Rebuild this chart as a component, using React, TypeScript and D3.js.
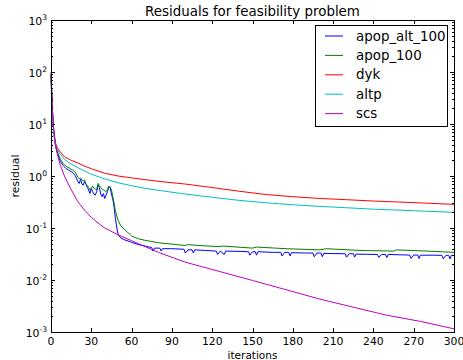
import React, { useEffect, useRef } from "react";
import * as d3 from "d3";

const W = 463;
const H = 360;
const M = { left: 51, right: 9, top: 20, bottom: 28 };

const xTicks = [0, 30, 60, 90, 120, 150, 180, 210, 240, 270, 300];
const yDecades = [-3, -2, -1, 0, 1, 2, 3];

// apop_alt_100 (blue)
const blueIter = [0, 1, 2, 3, 4, 5, 7, 9, 11, 13, 15, 17, 18, 19, 20, 21, 22, 23, 24, 25, 26, 27, 28, 29, 30, 31, 32, 33, 34, 35, 36, 37, 38, 39, 40, 41, 42, 43, 44, 45, 46, 47, 48, 49, 50, 52, 55, 60, 65, 70, 75, 76, 77, 81, 82, 83, 90, 99, 100, 102, 105, 106, 107, 115, 123, 124, 126, 129, 130, 140, 147, 148, 150, 152, 153, 154, 165, 171, 172, 174, 177, 178, 179, 190, 195, 196, 198, 201, 202, 203, 210, 219, 220, 222, 225, 226, 227, 235, 243, 244, 246, 249, 250, 251, 260, 267, 268, 270, 273, 274, 275, 285, 291, 292, 294, 296, 297, 298, 300];
const blueVal = [90, 20, 7, 4.2, 3.2, 2.6, 1.9, 1.6, 1.4, 1.3, 1.22, 1.1, 1.02, 0.9, 0.78, 0.72, 0.86, 0.7, 0.67, 0.78, 0.7, 0.6, 0.54, 0.46, 0.58, 0.5, 0.45, 0.43, 0.5, 0.67, 0.6, 0.45, 0.4, 0.46, 0.37, 0.43, 0.5, 0.6, 0.62, 0.45, 0.36, 0.25, 0.15, 0.1, 0.075, 0.064, 0.059, 0.053, 0.048, 0.045, 0.042, 0.036, 0.041, 0.041, 0.036, 0.04, 0.04, 0.039, 0.033, 0.038, 0.038, 0.033, 0.038, 0.037, 0.036, 0.031, 0.036, 0.031, 0.036, 0.0355, 0.035, 0.03, 0.035, 0.035, 0.03, 0.035, 0.034, 0.034, 0.029, 0.034, 0.034, 0.029, 0.0335, 0.033, 0.033, 0.028, 0.033, 0.033, 0.028, 0.0325, 0.0322, 0.032, 0.0275, 0.032, 0.032, 0.0275, 0.0315, 0.0312, 0.031, 0.027, 0.031, 0.031, 0.027, 0.031, 0.0305, 0.0302, 0.026, 0.0302, 0.0302, 0.026, 0.03, 0.03, 0.0298, 0.0255, 0.0298, 0.0298, 0.0255, 0.0298, 0.0297];

// apop_100 (green)
const greenIter = [0, 1, 2, 3, 4, 5, 7, 9, 11, 14, 16, 18, 20, 21, 22, 23, 24, 25, 26, 27, 28, 29, 30, 31, 32, 33, 34, 35, 36, 37, 38, 39, 40, 41, 42, 43, 44, 45, 46, 47, 48, 49, 50, 52, 55, 60, 65, 70, 75, 80, 90, 100, 102, 110, 125, 128, 150, 153, 175, 200, 205, 230, 255, 257, 280, 300];
const greenVal = [90, 20, 7.5, 4.6, 3.4, 2.8, 2.1, 1.75, 1.55, 1.4, 1.3, 1.2, 0.95, 0.88, 0.92, 0.84, 0.8, 0.84, 0.7, 0.66, 0.6, 0.54, 0.58, 0.64, 0.58, 0.56, 0.55, 0.72, 0.66, 0.6, 0.56, 0.54, 0.52, 0.5, 0.55, 0.64, 0.6, 0.55, 0.4, 0.3, 0.21, 0.17, 0.14, 0.11, 0.092, 0.07, 0.062, 0.058, 0.055, 0.052, 0.049, 0.046, 0.048, 0.046, 0.044, 0.045, 0.041, 0.043, 0.04, 0.038, 0.04, 0.037, 0.036, 0.038, 0.036, 0.034];

// dyk (red)
const redIter = [0, 1, 2, 3, 4, 5, 7, 10, 15, 20, 25, 30, 40, 50, 60, 70, 80, 100, 120, 140, 160, 180, 200, 220, 240, 260, 280, 300];
const redVal = [80, 18, 8, 4.8, 3.8, 3.4, 2.9, 2.35, 2.0, 1.78, 1.55, 1.38, 1.13, 1.0, 0.92, 0.85, 0.79, 0.7, 0.6, 0.51, 0.44, 0.4, 0.37, 0.35, 0.33, 0.315, 0.3, 0.285];

// altp (cyan)
const cyanIter = [0, 1, 2, 3, 4, 5, 7, 10, 15, 20, 25, 30, 40, 50, 60, 70, 80, 100, 120, 140, 160, 180, 200, 220, 240, 260, 280, 300];
const cyanVal = [70, 15, 7, 4.4, 3.5, 3.1, 2.6, 2.1, 1.7, 1.45, 1.25, 1.08, 0.88, 0.74, 0.65, 0.58, 0.53, 0.45, 0.39, 0.34, 0.305, 0.28, 0.26, 0.245, 0.23, 0.22, 0.21, 0.2];

// scs (magenta)
const magIter = [0, 1, 2, 3, 4, 5, 7, 10, 12, 15, 20, 25, 30, 35, 40, 50, 60, 70, 80, 100, 125, 150, 175, 200, 225, 250, 275, 300];
const magVal = [100, 20, 8, 4.8, 3.4, 2.5, 1.6, 1.0, 0.78, 0.55, 0.32, 0.22, 0.16, 0.125, 0.1, 0.074, 0.057, 0.044, 0.034, 0.022, 0.0147, 0.0098, 0.0065, 0.0043, 0.003, 0.0021, 0.0016, 0.00115];

const series = [
  { name: "apop_alt_100", color: "#0000ff", iter: blueIter, val: blueVal },
  { name: "apop_100", color: "#008000", iter: greenIter, val: greenVal },
  { name: "dyk", color: "#ff0000", iter: redIter, val: redVal },
  { name: "altp", color: "#00bfbf", iter: cyanIter, val: cyanVal },
  { name: "scs", color: "#bf00bf", iter: magIter, val: magVal },
];

const FONT = "DejaVu Sans, sans-serif";

export default function App() {
  const ref = useRef<SVGSVGElement>(null);

  useEffect(() => {
    const svg = d3.select(ref.current);
    svg.selectAll("*").remove();

    const x = d3.scaleLinear().domain([0, 300]).range([M.left, W - M.right]);
    const y = d3.scaleLog().domain([1e-3, 1e3]).range([H - M.bottom, M.top]);

    svg.append("rect").attr("width", W).attr("height", H).attr("fill", "#fff");

    const line = d3
      .line<[number, number]>()
      .x((d) => x(d[0]))
      .y((d) => y(d[1]));

    const plot = svg.append("g");
    series.forEach((s) => {
      const pts = s.iter.map((it, i) => [it, s.val[i]] as [number, number]);
      plot
        .append("path")
        .attr("d", line(pts))
        .attr("fill", "none")
        .attr("stroke", s.color)
        .attr("stroke-width", 1);
    });

    const [x0, x1] = x.range();
    const [y0, y1] = y.range();
    const ax = svg.append("g").attr("stroke", "#000").attr("stroke-width", 1);

    // x ticks, bottom and top, pointing in
    xTicks.forEach((t) => {
      const px = Math.round(x(t)) + 0.5;
      ax.append("line").attr("x1", px).attr("x2", px).attr("y1", y0).attr("y2", y0 - 4);
      ax.append("line").attr("x1", px).attr("x2", px).attr("y1", y1).attr("y2", y1 + 4);
      svg
        .append("text")
        .attr("x", x(t))
        .attr("y", y0 + 12.5)
        .attr("text-anchor", "middle")
        .attr("font-family", FONT)
        .attr("font-size", 10.8)
        .text(t);
    });

    // y ticks, major + minor on both sides
    yDecades.forEach((e) => {
      const py = Math.round(y(Math.pow(10, e))) + 0.5;
      ax.append("line").attr("x1", x0).attr("x2", x0 + 4).attr("y1", py).attr("y2", py);
      ax.append("line").attr("x1", x1).attr("x2", x1 - 4).attr("y1", py).attr("y2", py);
      if (e < 3) {
        for (let k = 2; k <= 9; k++) {
          const my = Math.round(y(k * Math.pow(10, e))) + 0.5;
          ax.append("line").attr("x1", x0).attr("x2", x0 + 2).attr("y1", my).attr("y2", my);
          ax.append("line").attr("x1", x1).attr("x2", x1 - 2).attr("y1", my).attr("y2", my);
        }
      }
      const lbl = svg
        .append("text")
        .attr("x", x0 - 4)
        .attr("y", y(Math.pow(10, e)) + 5)
        .attr("text-anchor", "end")
        .attr("font-family", FONT)
        .attr("font-size", 10.8);
      lbl.append("tspan").text("10");
      lbl
        .append("tspan")
        .attr("dy", -5)
        .attr("font-size", 7.6)
        .text(String(e));
    });

    svg
      .append("rect")
      .attr("x", x0 + 0.5)
      .attr("y", y1 + 0.5)
      .attr("width", x1 - x0)
      .attr("height", y0 - y1)
      .attr("fill", "none")
      .attr("stroke", "#000");

    svg
      .append("text")
      .attr("x", (x0 + x1) / 2)
      .attr("y", 16)
      .attr("text-anchor", "middle")
      .attr("font-family", FONT)
      .attr("font-size", 13.4)
      .text("Residuals for feasibility problem");

    svg
      .append("text")
      .attr("x", (x0 + x1) / 2)
      .attr("y", 358.5)
      .attr("text-anchor", "middle")
      .attr("font-family", FONT)
      .attr("font-size", 10.5)
      .text("iterations");

    svg
      .append("text")
      .attr("transform", `translate(19,${(y0 + y1) / 2}) rotate(-90)`)
      .attr("text-anchor", "middle")
      .attr("font-family", FONT)
      .attr("font-size", 10.8)
      .text("residual");

    // legend
    const lg = svg.append("g");
    lg.append("rect")
      .attr("x", 315.5)
      .attr("y", 25.5)
      .attr("width", 132)
      .attr("height", 101)
      .attr("fill", "#fff")
      .attr("stroke", "#000");
    series.forEach((s, i) => {
      const ry = 36 + i * 19.4;
      lg.append("line")
        .attr("x1", 325)
        .attr("x2", 343)
        .attr("y1", ry)
        .attr("y2", ry)
        .attr("stroke", s.color);
      lg.append("text")
        .attr("x", 356)
        .attr("y", ry + 4.5)
        .attr("font-family", FONT)
        .attr("font-size", 13.4)
        .text(s.name);
    });
  }, []);

  return (
    <svg
      ref={ref}
      width={W}
      height={H}
      style={{ position: "absolute", left: 0, top: 0 }}
    />
  );
}
